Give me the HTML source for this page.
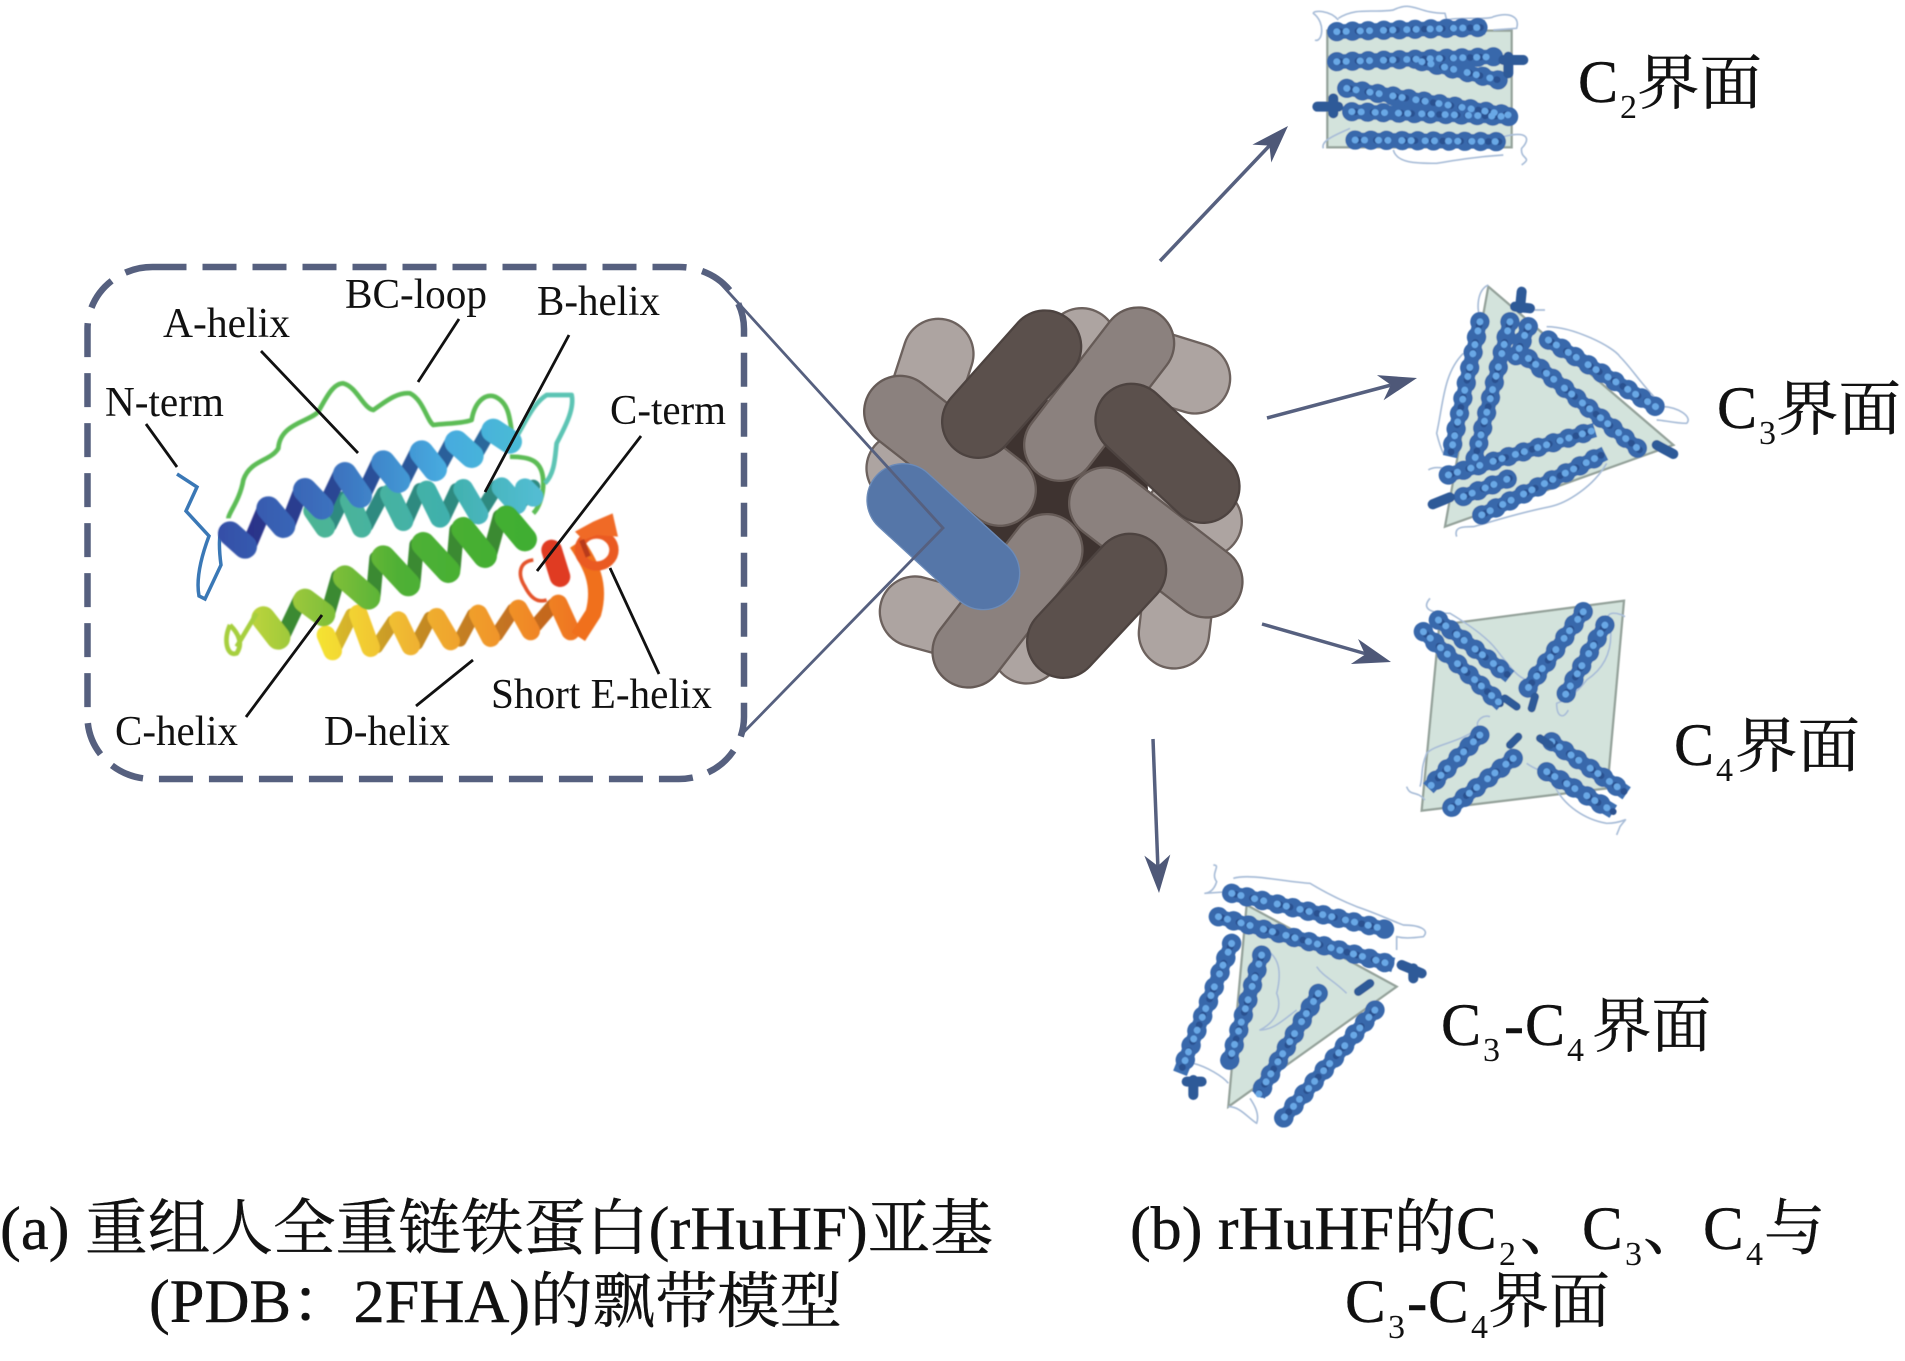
<!DOCTYPE html>
<html><head><meta charset="utf-8"><style>
html,body{margin:0;padding:0;background:#fff}
svg{display:block}
text{font-family:"Liberation Serif","Noto Serif CJK SC",serif;fill:#111}
.lb{font-size:42px}
.m{font-size:60px;stroke:#111;stroke-width:.4px}
.j{font-size:61px;stroke:#111;stroke-width:.4px}
.s{font-size:34px}
.hb{fill:none;stroke:#3c6fb2;stroke-width:44}
.ht{fill:none;stroke:#3768ab;stroke-width:58;stroke-linecap:round;stroke-dasharray:1 46}
.hd{fill:none;stroke:#2b5190;stroke-width:20;stroke-linecap:round;stroke-dasharray:1 30 1 52;stroke-dashoffset:20}
.hl{fill:none;stroke:#69a8e6;stroke-width:20;stroke-linecap:round;stroke-dasharray:1 27 1 41}
.d{fill:none;stroke:#2f5a98;stroke-linecap:round}
.t{fill:none;stroke:#a9bdd8;stroke-width:5;stroke-linejoin:round}
.f{fill:#d3e3dc;stroke:#95a39b;stroke-width:7}
</style></head><body>
<svg width="1905" height="1361" viewBox="0 0 1905 1361" xmlns="http://www.w3.org/2000/svg">
<defs>
<filter id="b1" x="-5%" y="-5%" width="110%" height="110%"><feGaussianBlur stdDeviation="2.200"/></filter>
<filter id="b2" x="-5%" y="-5%" width="110%" height="110%"><feGaussianBlur stdDeviation="1.500"/></filter>
<linearGradient id="fa" gradientUnits="userSpaceOnUse" x1="70" y1="0" x2="950" y2="0"><stop offset="0" stop-color="#3450a8"/><stop offset=".4" stop-color="#3c74c0"/><stop offset=".75" stop-color="#46aadf"/><stop offset="1" stop-color="#48bad6"/></linearGradient>
<linearGradient id="ba" gradientUnits="userSpaceOnUse" x1="70" y1="0" x2="950" y2="0"><stop offset="0" stop-color="#2a2c86"/><stop offset=".5" stop-color="#2a4f98"/><stop offset="1" stop-color="#2a6e9c"/></linearGradient>
<linearGradient id="fb" gradientUnits="userSpaceOnUse" x1="330" y1="0" x2="1010" y2="0"><stop offset="0" stop-color="#4cb494"/><stop offset=".6" stop-color="#40b0ac"/><stop offset="1" stop-color="#52bcd2"/></linearGradient>
<linearGradient id="fc" gradientUnits="userSpaceOnUse" x1="100" y1="0" x2="1000" y2="0"><stop offset="0" stop-color="#cbd93c"/><stop offset=".25" stop-color="#90c43a"/><stop offset=".55" stop-color="#4fb035"/><stop offset="1" stop-color="#3fae30"/></linearGradient>
<linearGradient id="fd" gradientUnits="userSpaceOnUse" x1="360" y1="0" x2="1180" y2="0"><stop offset="0" stop-color="#f4e232"/><stop offset=".35" stop-color="#efb230"/><stop offset=".7" stop-color="#f09028"/><stop offset="1" stop-color="#ef6e20"/></linearGradient>
<linearGradient id="bd" gradientUnits="userSpaceOnUse" x1="360" y1="0" x2="1180" y2="0"><stop offset="0" stop-color="#dcc22c"/><stop offset=".35" stop-color="#c48c24"/><stop offset="1" stop-color="#c45a1c"/></linearGradient>
<g id="c2p"><path d="M140 95 L585 82"/><path d="M140 185 L620 170"/><path d="M395 185 L625 240"/><path d="M170 265 L655 345"/><path d="M185 335 L660 350"/><path d="M195 420 L635 425"/></g>
<g id="c3p"><path d="M240 155 L150 560"/><path d="M330 155 L225 565"/><path d="M385 170 L345 265"/><path d="M445 210 L775 415"/><path d="M385 265 L725 545"/><path d="M145 615 L585 480"/><path d="M190 680 L340 620"/><path d="M245 735 L615 550"/></g>
<g id="c4p"><path d="M70 155 L305 375"/><path d="M115 120 L330 290"/><path d="M550 95 L380 330"/><path d="M615 135 L490 355"/><path d="M240 465 L85 625"/><path d="M340 535 L145 690"/><path d="M455 485 L680 640"/><path d="M440 575 L640 695"/></g>
<g id="c5p"><path d="M245 130 L715 240"/><path d="M205 200 L730 345"/><path d="M245 280 L90 670"/><path d="M335 315 L235 645"/><path d="M505 430 L325 735"/><path d="M675 480 L400 805"/></g>
</defs>

<!-- dashed box -->
<rect x="87.5" y="267" width="656.5" height="512" rx="65" ry="62" fill="none" stroke="#56607f" stroke-width="6.500" stroke-dasharray="34 16"/>

<!-- ribbon model -->
<path d="M177 474 L197 487 L186 511 L209 536 C200 560 196 580 199 596 L205 599 L221 565 C219 550 218 530 224 526" fill="none" stroke="#3a78b6" stroke-width="3.500"/>
<g transform="translate(200,380) scale(.3333)" fill="none" stroke-linejoin="round" filter="url(#b1)">
  <path d="M85 415 C85 400 120 360 130 300 C150 240 210 245 235 205 C240 130 330 125 355 95 C380 50 400 10 430 10 C470 20 490 85 520 90 C550 70 590 35 630 40 C670 60 680 120 700 135 C740 130 790 130 815 120 C825 60 860 40 885 50 C930 70 930 120 940 190" stroke="#5cbc55" stroke-width="14"/>
  <path d="M930 230 C990 230 1030 240 1030 310 C1030 340 1020 380 1000 400" stroke="#5cbc55" stroke-width="14"/>
  <path d="M950 170 C980 120 1000 70 1040 45 L1115 45 C1125 90 1090 150 1070 190 C1065 230 1065 280 1035 310" stroke="#5cc4b4" stroke-width="14"/>

  <g stroke-linecap="round">
  <!-- helix B -->
  <path d="M390 435 L430 355 M500 435 L550 340 M620 420 L660 330 M730 415 L770 330 M840 400 L890 320 M960 370 L1000 320" stroke="#2f8a80" stroke-width="42"/>
  <path d="M340 392 L375 443 M450 362 L485 443 M570 342 L610 423 M680 332 L720 413 M790 327 L835 403 M905 322 L950 373 M975 325 L1000 350" stroke="url(#fb)" stroke-width="60"/>
  <!-- helix A -->
  <path d="M150 490 L190 395 M265 430 L300 340 M375 380 L420 285 M490 345 L535 250 M610 300 L650 220 M715 265 L755 190 M825 225 L865 155" stroke="url(#ba)" stroke-width="46"/>
  <path d="M90 460 L135 500 M205 385 L250 438 M315 330 L365 383 M435 282 L480 348 M550 247 L595 303 M665 217 L705 268 M770 187 L815 228 M880 152 L930 185" stroke="url(#fa)" stroke-width="72"/>
  <!-- helix D -->
  <path d="M405 805 L455 705 M530 800 L580 725 M650 790 L690 715 M780 780 L820 705 M890 765 L940 690 M1000 745 L1060 675" stroke="url(#bd)" stroke-width="40"/>
  <path d="M378 765 L398 813 M475 702 L512 803 M595 722 L632 798 M710 712 L752 783 M835 702 L872 773 M955 687 L992 753 M1075 672 L1112 753" stroke="url(#fd)" stroke-width="56"/>
  <!-- helix C -->
  <path d="M250 765 L300 660 M385 695 L415 590 M520 645 L530 535 M640 605 L650 495 M760 565 L770 450 M870 520 L900 410" stroke="#3a8a30" stroke-width="44"/>
  <path d="M190 715 L235 773 M315 662 L370 703 M435 592 L505 653 M550 532 L625 613 M670 492 L745 573 M790 447 L855 528 M920 412 L975 478" stroke="url(#fc)" stroke-width="72"/>
  </g>
  <path d="M90 735 C70 780 80 830 110 820 C130 790 115 760 90 735 M110 800 L170 700" stroke="#a6cf3c" stroke-width="14"/>

  <!-- E region -->
  <path d="M1000 540 C960 545 950 580 975 620 C990 650 1010 670 1040 660" stroke="#e4532a" stroke-width="11"/>
  <path d="M1055 510 L1080 590" stroke="#e03a20" stroke-width="62" stroke-linecap="round"/>
  <path d="M1130 490 C1170 550 1205 610 1180 700 L1135 770" stroke="#f0701f" stroke-width="48"/>
  <ellipse cx="1190" cy="510" rx="52" ry="48" stroke="#ea5a22" stroke-width="28"/>
  <polygon points="1125,455 1180,425 1238,400 1254,470 1190,465 1150,480" fill="#f06a28"/>
  <path d="M1145 480 L1165 530" stroke="#b83a1a" stroke-width="16"/>
</g>

<!-- pointer lines -->
<g stroke="#111" stroke-width="2.800">
  <line x1="146" y1="424" x2="177" y2="467"/>
  <line x1="261" y1="351" x2="358" y2="453"/>
  <line x1="459" y1="319" x2="418" y2="382"/>
  <line x1="569" y1="335" x2="485" y2="492"/>
  <line x1="641" y1="436" x2="537" y2="571"/>
  <line x1="610" y1="568" x2="659" y2="674"/>
  <line x1="322" y1="615" x2="246" y2="717"/>
  <line x1="473" y1="660" x2="416" y2="706"/>
</g>

<!-- labels -->
<text class="lb" x="163" y="337" textLength="127" lengthAdjust="spacingAndGlyphs">A-helix</text>
<text class="lb" x="345" y="308" textLength="142" lengthAdjust="spacingAndGlyphs">BC-loop</text>
<text class="lb" x="537" y="315" textLength="123" lengthAdjust="spacingAndGlyphs">B-helix</text>
<text class="lb" x="105" y="416" textLength="119" lengthAdjust="spacingAndGlyphs">N-term</text>
<text class="lb" x="610" y="424" textLength="116" lengthAdjust="spacingAndGlyphs">C-term</text>
<text class="lb" x="115" y="745" textLength="123" lengthAdjust="spacingAndGlyphs">C-helix</text>
<text class="lb" x="324" y="745" textLength="126" lengthAdjust="spacingAndGlyphs">D-helix</text>
<text class="lb" x="491" y="708" textLength="221" lengthAdjust="spacingAndGlyphs">Short E-helix</text>

<!-- central ball -->
<g transform="translate(830,280) scale(.3333)" fill="none" stroke-linecap="round">
  <circle cx="665" cy="650" r="290" fill="#3e3330"/>
  <g stroke="#6d625e" stroke-width="218">
    <path d="M325 222 L290 330"/><path d="M755 190 L780 230"/><path d="M1095 295 L950 250"/><path d="M1130 725 L1050 700"/><path d="M1032 1060 L1045 950"/><path d="M590 1105 L620 1080"/><path d="M255 995 L420 1040"/><path d="M215 565 L280 600"/>
  </g>
  <g stroke="#ada4a1" stroke-width="204">
    <path d="M325 222 L290 330"/><path d="M755 190 L780 230"/><path d="M1095 295 L950 250"/><path d="M1130 725 L1050 700"/><path d="M1032 1060 L1045 950"/><path d="M590 1105 L620 1080"/><path d="M255 995 L420 1040"/><path d="M215 565 L280 600"/>
  </g>
  <path d="M210 395 L510 630" stroke="#665b57" stroke-width="222"/><path d="M210 395 L510 630" stroke="#8b817e" stroke-width="208"/>
  <path d="M925 190 L690 495" stroke="#665b57" stroke-width="222"/><path d="M925 190 L690 495" stroke="#8b817e" stroke-width="208"/>
  <path d="M825 670 L1130 905" stroke="#665b57" stroke-width="222"/><path d="M825 670 L1130 905" stroke="#8b817e" stroke-width="208"/>
  <path d="M650 810 L415 1115" stroke="#665b57" stroke-width="222"/><path d="M650 810 L415 1115" stroke="#8b817e" stroke-width="208"/>
  <g stroke="#4d4340" stroke-width="224"><path d="M645 200 L445 425"/><path d="M905 420 L1120 620"/><path d="M900 870 L700 1085"/></g>
  <g stroke="#5b504c" stroke-width="210"><path d="M645 200 L445 425"/><path d="M905 420 L1120 620"/><path d="M900 870 L700 1085"/></g>
  <path d="M220 660 L460 880" stroke="#6c8bb8" stroke-width="222"/>
  <path d="M220 660 L460 880" stroke="#5576a8" stroke-width="214"/>
</g>
<polyline points="711,273 943,528 741,735" fill="none" stroke="#56607f" stroke-width="2.800"/>

<!-- arrows -->
<g stroke="#56607f" stroke-width="3.500">
  <line x1="1160" y1="261" x2="1272" y2="143"/>
  <line x1="1267" y1="418" x2="1395" y2="384"/>
  <line x1="1262" y1="624" x2="1370" y2="655"/>
  <line x1="1153" y1="739" x2="1158" y2="870"/>
</g>
<g fill="#4e5878">
  <path transform="translate(1288,126) rotate(-46.500)" d="M0 0 L-38 -13 L-27 0 L-38 13Z"/>
  <path transform="translate(1417,378) rotate(-14.800)" d="M0 0 L-38 -13 L-27 0 L-38 13Z"/>
  <path transform="translate(1391,662) rotate(16)" d="M0 0 L-38 -13 L-27 0 L-38 13Z"/>
  <path transform="translate(1159,893) rotate(87.500)" d="M0 0 L-38 -13 L-27 0 L-38 13Z"/>
</g>

<!-- C2 -->
<g transform="translate(1290,0) scale(.3333)" filter="url(#b2)">
  <rect class="f" x="112" y="92" width="553" height="350"/>
  <path class="t" d="M145 60 C120 30 70 30 70 40 C110 70 95 130 75 120 M145 55 C200 20 250 40 310 30 C370 0 380 40 465 40 L470 60 C500 50 600 60 610 50 C660 35 690 50 680 85 L610 90 M100 445 C90 420 150 400 180 385 M310 450 C320 490 380 490 440 490 C500 480 560 470 640 465 M640 410 C720 390 720 420 695 445 C690 480 730 470 695 495"/>
  <use href="#c2p" class="hb"/><use href="#c2p" class="ht"/><use href="#c2p" class="hd"/><use href="#c2p" class="hl"/>
  <path class="d" stroke-width="30" d="M640 180 L700 180 M655 170 L655 220"/>
  <path class="d" stroke-width="30" d="M82 320 L145 320 M130 295 L130 340"/>
</g>

<!-- C3 -->
<g transform="translate(1400,270) scale(.3333)" filter="url(#b2)">
  <polygon class="f" points="265,50 820,525 135,770"/>
  <path class="t" d="M265 45 C230 60 230 120 240 140 M440 170 C520 170 640 230 660 260 C700 300 720 340 790 410 C830 410 880 440 860 460 C820 460 790 450 770 450 M190 250 C130 310 130 400 110 490 C120 530 130 550 130 550 M150 600 C120 590 100 590 85 600 M170 800 C160 770 190 770 220 770 C260 760 350 730 450 710 C500 700 580 650 620 580 M400 120 L435 120"/>
  <use href="#c3p" class="hb"/><use href="#c3p" class="ht"/><use href="#c3p" class="hd"/><use href="#c3p" class="hl"/>
  <path class="d" stroke-width="30" d="M365 65 L360 115 M345 110 L390 115"/>
  <path class="d" stroke-width="30" d="M770 525 L820 552"/>
  <path class="d" stroke-width="30" d="M98 703 L150 682"/>
</g>

<!-- C4 -->
<g transform="translate(1400,580) scale(.3333)" filter="url(#b2)">
  <polygon class="f" points="118,135 672,62 622,625 65,692"/>
  <path class="t" d="M90 55 C60 90 100 100 150 100 C200 130 260 170 290 210 C330 260 350 290 380 300 M675 110 C640 90 610 100 630 130 C640 200 620 260 560 300 C530 340 500 360 470 370 C470 410 490 420 505 390 M270 410 C240 400 220 440 240 440 C180 490 110 490 80 520 C60 570 70 590 60 620 M20 620 C30 650 50 630 75 660 M380 550 C420 580 450 570 460 610 C490 680 560 720 620 730 C680 730 690 700 660 740 L650 765"/>
  <use href="#c4p" class="hb"/><use href="#c4p" class="ht"/><use href="#c4p" class="hd"/><use href="#c4p" class="hl"/>
  <path class="d" stroke-width="24" d="M315 355 L350 380 M405 350 L395 385 M355 470 L330 495 M420 475 L450 495"/>
</g>

<!-- C3-C4 -->
<g transform="translate(1150,850) scale(.3333)" filter="url(#b2)">
  <polygon class="f" points="290,165 740,410 235,770"/>
  <path class="t" d="M190 45 C215 45 180 70 200 95 C190 130 165 130 165 130 L235 125 M250 85 C300 70 400 95 480 100 C530 130 570 150 620 170 C680 190 720 210 760 225 C810 225 840 240 820 260 C780 265 760 265 740 260 L740 300 M330 290 C380 310 400 350 380 430 C400 480 370 520 330 540 C370 540 400 510 440 480 M500 350 C520 380 550 390 590 430 M235 770 C270 770 290 800 320 820 C330 790 310 760 300 745 M130 640 C170 650 220 680 235 700"/>
  <use href="#c5p" class="hb"/><use href="#c5p" class="ht"/><use href="#c5p" class="hd"/><use href="#c5p" class="hl"/>
  <path class="d" stroke-width="30" d="M755 345 L815 370 M790 355 L790 385"/>
  <path class="d" stroke-width="30" d="M130 690 L130 735 M110 695 L155 695"/>
  <path class="d" stroke-width="26" d="M625 425 L660 400"/>
</g>

<!-- interface labels -->
<text class="m" x="1578" y="102">C</text><text class="s" x="1620" y="118">2</text><text class="m" x="1637" y="104" textLength="125" lengthAdjust="spacingAndGlyphs">界面</text>
<text class="m" x="1717" y="428">C</text><text class="s" x="1759" y="444">3</text><text class="m" x="1776" y="430" textLength="125" lengthAdjust="spacingAndGlyphs">界面</text>
<text class="m" x="1674" y="765">C</text><text class="s" x="1716" y="781">4</text><text class="m" x="1735" y="767" textLength="125" lengthAdjust="spacingAndGlyphs">界面</text>
<text class="m" x="1441" y="1045">C</text><text class="s" x="1483" y="1061">3</text><text class="m" x="1504" y="1045">-</text><text class="m" x="1525" y="1045">C</text><text class="s" x="1567" y="1061">4</text><text class="m" x="1592" y="1047" textLength="119" lengthAdjust="spacingAndGlyphs">界面</text>

<!-- captions -->
<text class="j" x="0" y="1249" textLength="993" lengthAdjust="spacingAndGlyphs">(a) 重组人全重链铁蛋白(rHuHF)亚基</text>
<text class="j" x="149" y="1322" textLength="693" lengthAdjust="spacingAndGlyphs">(PDB：2FHA)的飘带模型</text>
<text class="j" x="1130" y="1249" textLength="326" lengthAdjust="spacingAndGlyphs">(b) rHuHF的</text>
<text class="j" x="1456" y="1249">C</text><text class="s" x="1499" y="1265">2</text><text class="j" x="1520" y="1249">、</text>
<text class="j" x="1582" y="1249">C</text><text class="s" x="1625" y="1265">3</text><text class="j" x="1643" y="1249">、</text>
<text class="j" x="1703" y="1249">C</text><text class="s" x="1746" y="1265">4</text><text class="j" x="1764" y="1249">与</text>
<text class="j" x="1345" y="1322">C</text><text class="s" x="1388" y="1338">3</text><text class="j" x="1407" y="1322">-</text><text class="j" x="1428" y="1322">C</text><text class="s" x="1471" y="1338">4</text><text class="j" x="1488" y="1322" textLength="122" lengthAdjust="spacingAndGlyphs">界面</text>
</svg>
</body></html>
